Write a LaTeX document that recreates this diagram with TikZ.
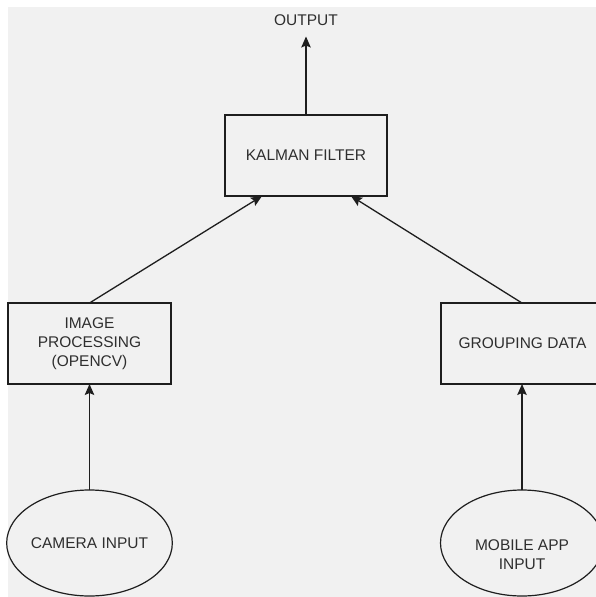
\documentclass[tikz,border=0pt]{standalone}
\usepackage{fontspec}
\setmainfont{Liberation Sans}
\usetikzlibrary{shapes.geometric,arrows.meta}
\definecolor{bggray}{HTML}{F1F1F1}
\definecolor{ink}{HTML}{1E1E1E}
\definecolor{txt}{HTML}{2E2E2E}
\begin{document}
\begin{tikzpicture}[x=1pt,y=-1pt,
  every node/.style={font=\fontsize{15.5}{19}\selectfont, text=txt, outer sep=0pt},
  boxnode/.style={draw=ink, line width=1.3pt, rectangle, minimum width=162pt, minimum height=81pt, align=center, inner sep=0pt},
  ovalnode/.style={draw=ink, line width=1.2pt, ellipse, minimum width=163pt, minimum height=106pt, align=center, inner sep=0pt},
  plaintext/.style={align=center, inner sep=0pt},
  conn/.style={draw=ink, line width=1.3pt, -{Stealth[length=11pt,width=9.5pt,inset=2pt]}}]
\useasboundingbox (0,0) rectangle (596,597);
\fill[white] (0,0) rectangle (596,597);
\fill[bggray] (8,7) rectangle (596,597);

\node[plaintext] (out) at (306,20) {OUTPUT};
\node[boxnode] (k) at (306,155.5) {KALMAN FILTER};
\node[boxnode, minimum width=163pt] (img) at (89.5,343.5) {IMAGE\\PROCESSING\\(OPENCV)};
\node[boxnode, minimum width=163pt] (grp) at (522.5,343.5) {GROUPING DATA};
\node[ovalnode] (cam) at (89.5,543) {CAMERA INPUT};
\node[ovalnode] (mob) at (522,543) {};
\node[plaintext] (mobt) at (522,554.5) {MOBILE APP\\INPUT};

\draw[conn] (k.north) -- ([yshift=-11pt]out.south);
\draw[conn] (img.north) -- ([xshift=-44pt]k.south);
\draw[conn] (grp.north -| mob.north) -- ([xshift=45pt]k.south);
\draw[conn] (cam.north) -- (img.south);
\draw[conn] (mob.north) -- (mob.north |- grp.south);
\end{tikzpicture}
\end{document}
